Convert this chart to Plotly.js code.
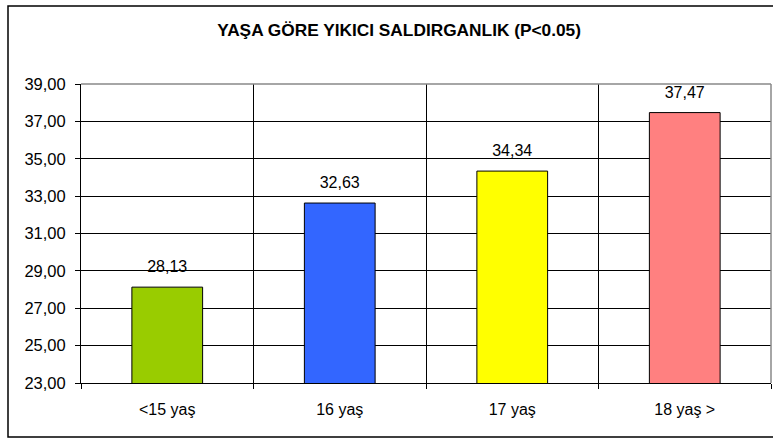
<!DOCTYPE html>
<html>
<head>
<meta charset="utf-8">
<script src="https://cdn.plot.ly/plotly-3.0.1.min.js"></script>
<style>html,body{margin:0;padding:0;background:#fff;}#chart{width:773px;height:440px;}</style>
</head>
<body>
<div id="chart"></div>
<script>
const categories = ['<15 yaş', '16 yaş', '17 yaş', '18 yaş >'];
const values = [28.13, 32.63, 34.34, 37.47];
const barColors = ['#99CC00', '#3366FF', '#FFFF00', '#FF8080'];
const yTicks = [23, 25, 27, 29, 31, 33, 35, 37, 39];
const chartTitle = 'YAŞA GÖRE YIKICI SALDIRGANLIK (P<0.05)';

const FONT = 'Liberation Sans, Arial, sans-serif';

const bars = {
  type: 'bar',
  x: categories,
  y: values,
  width: 0.41,
  marker: {color: barColors, line: {color: '#000', width: 1}},
  hoverinfo: 'skip'
};
const labels = {
  type: 'scatter',
  mode: 'markers+text',
  x: categories,
  y: values,
  text: values.map(v => v.toFixed(2).replace('.', ',')),
  textposition: 'top center',
  textfont: {family: FONT, size: 16, color: '#000'},
  marker: {size: 16, color: 'rgba(0,0,0,0)'},
  cliponaxis: false,
  hoverinfo: 'skip'
};

const layout = {
  width: 773, height: 440,
  margin: {l: 81, r: 2, t: 84, b: 57},
  paper_bgcolor: '#fff', plot_bgcolor: '#fff',
  showlegend: false,
  separators: ',.',
  font: {family: FONT, size: 16, color: '#000'},
  title: {
    text: '<b>' + chartTitle.replace('<', '&lt;') + '</b>',
    font: {family: FONT, size: 17.3, color: '#000'},
    x: 0.461, xref: 'paper', xanchor: 'center',
    y: 1 - 30/440, yref: 'container', yanchor: 'middle'
  },
  xaxis: {
    type: 'category',
    tickson: 'boundaries',
    showgrid: true, gridcolor: '#000', gridwidth: 1,
    ticks: 'outside', ticklen: 5, tickcolor: '#000',
    showline: true, linecolor: '#000', linewidth: 1,
    ticklabelstandoff: 12,
    tickfont: {family: FONT, size: 16, color: '#000'},
    fixedrange: true
  },
  yaxis: {
    range: [23, 39],
    tickvals: yTicks,
    ticktext: yTicks.map(v => v.toFixed(2).replace('.', ',')),
    showgrid: true, gridcolor: '#000', gridwidth: 1,
    zeroline: false,
    ticks: 'outside', ticklen: 5, tickcolor: '#000',
    showline: true, linecolor: '#000', linewidth: 1,
    ticklabelstandoff: 6,
    tickfont: {family: FONT, size: 16.5, color: '#000'},
    fixedrange: true
  },
  shapes: [
    {type: 'line', xref: 'paper', yref: 'paper', x0: 0, x1: 1, y0: 1, y1: 1, line: {color: '#888', width: 1.5}},
    {type: 'line', xref: 'paper', yref: 'paper', x0: 1, x1: 1, y0: 0, y1: 1, line: {color: '#888', width: 1.5}},
    {type: 'rect', xref: 'paper', yref: 'paper',
     x0: (8 - 81) / 690, x1: (778 - 81) / 690,
     y0: (383 - 437) / 299, y1: (383 - 6) / 299,
     line: {color: '#000', width: 1.5}, fillcolor: 'rgba(0,0,0,0)'}
  ]
};

Plotly.newPlot('chart', [bars, labels], layout, {displayModeBar: false, staticPlot: true});
</script>
</body>
</html>
